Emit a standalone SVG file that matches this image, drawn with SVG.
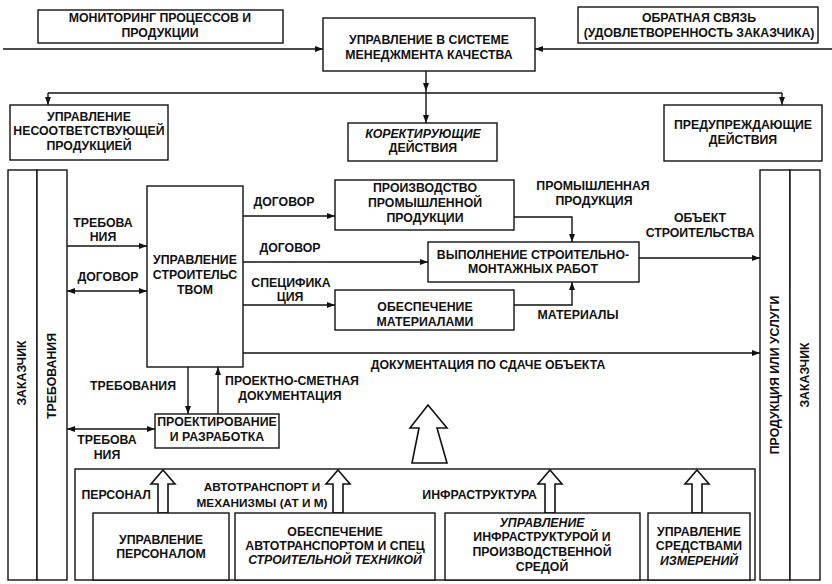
<svg xmlns="http://www.w3.org/2000/svg" width="832" height="584" viewBox="0 0 832 584">
<style>
.b{fill:#fff;stroke:#111;stroke-width:1.4}
.c{fill:none;stroke:#111;stroke-width:1.4}
.h{fill:#fff;stroke:#111;stroke-width:1.6;stroke-linejoin:miter}
text{font-family:"Liberation Sans",Arial,sans-serif;font-weight:bold;font-size:12.3px;fill:#111;text-anchor:middle}
.i{font-style:italic}
.e{text-anchor:end}
.s{font-size:11.8px}
</style>
<defs>
<marker id="a" viewBox="0 0 8 6" refX="8" refY="3" markerWidth="8" markerHeight="6" markerUnits="userSpaceOnUse" orient="auto-start-reverse">
<path d="M0,0 L8,3 L0,6 z" fill="#111"/>
</marker>
</defs>
<rect width="832" height="584" fill="#fff"/>

<g id="connectors">
<path class="c" d="M3,49 H323" marker-end="url(#a)"/>
<path class="c" d="M832,49 H535" marker-end="url(#a)"/>
<path class="c" d="M426,71 V91" marker-end="url(#a)"/>
<path class="c" d="M426,91 V123" marker-end="url(#a)"/>
<path class="c" d="M48,93 H782"/>
<path class="c" d="M48,93 V105" marker-end="url(#a)"/>
<path class="c" d="M782,93 V105" marker-end="url(#a)"/>
<path class="c" d="M67,246 H147" marker-end="url(#a)"/>
<path class="c" d="M67,291 H147" marker-start="url(#a)" marker-end="url(#a)"/>
<path class="c" d="M243,216 H335" marker-end="url(#a)"/>
<path class="c" d="M243,262 H428" marker-end="url(#a)"/>
<path class="c" d="M243,305 H335" marker-end="url(#a)"/>
<path class="c" d="M243,353 H760" marker-end="url(#a)"/>
<path class="c" d="M514,217 H572 V242" marker-end="url(#a)"/>
<path class="c" d="M514,305 H572 V282" marker-end="url(#a)"/>
<path class="c" d="M639,258 H760" marker-end="url(#a)"/>
<path class="c" d="M188,367 V414" marker-end="url(#a)"/>
<path class="c" d="M218,414 V367" marker-end="url(#a)"/>
<path class="c" d="M67,429 H155" marker-start="url(#a)" marker-end="url(#a)"/>
<polygon class="h" points="428,405 447,428 437,428 447,463 412,463 419,428 410,428"/>
<polygon class="h" points="163,470 175,484 168,484 168,513 158,513 158,484 151,484"/>
<polygon class="h" points="338,470 350,484 343,484 343,513 333,513 333,484 326,484"/>
<polygon class="h" points="550,470 562,484 555,484 555,513 545,513 545,484 538,484"/>
<polygon class="h" points="697,470 709,484 702,484 702,513 692,513 692,484 685,484"/>
</g>

<g id="labels">
<text x="103" y="227">ТРЕБОВА</text>
<text x="103" y="241">НИЯ</text>
<text x="108" y="281">ДОГОВОР</text>
<text x="284" y="206">ДОГОВОР</text>
<text x="290" y="252">ДОГОВОР</text>
<text x="291" y="287">СПЕЦИФИКА</text>
<text x="290" y="301">ЦИЯ</text>
<text x="593" y="190">ПРОМЫШЛЕННАЯ</text>
<text x="594" y="205">ПРОДУКЦИЯ</text>
<text x="700" y="222">ОБЪЕКТ</text>
<text x="700" y="237">СТРОИТЕЛЬСТВА</text>
<text x="578" y="319">МАТЕРИАЛЫ</text>
<text x="488" y="369">ДОКУМЕНТАЦИЯ ПО СДАЧЕ ОБЪЕКТА</text>
<text x="133" y="390">ТРЕБОВАНИЯ</text>
<text x="292" y="385">ПРОЕКТНО-СМЕТНАЯ</text>
<text x="290" y="400">ДОКУМЕНТАЦИЯ</text>
<text x="107" y="444">ТРЕБОВА</text>
<text x="107" y="459">НИЯ</text>
<text x="151" y="499" class="e">ПЕРСОНАЛ</text>
<text x="262" y="491" class="s">АВТОТРАНСПОРТ И</text>
<text x="262" y="507" class="s">МЕХАНИЗМЫ (АТ И М)</text>
<text x="537" y="499" class="e">ИНФРАСТРУКТУРА</text>
</g>

<g id="monitoring">
<rect class="b" x="38" y="10" width="245" height="33"/>
<text x="160" y="22">МОНИТОРИНГ ПРОЦЕССОВ И</text>
<text x="160" y="37">ПРОДУКЦИИ</text>
</g>
<g id="qms">
<rect class="b" x="323" y="18" width="212" height="53"/>
<text x="429" y="44">УПРАВЛЕНИЕ В СИСТЕМЕ</text>
<text x="429" y="59">МЕНЕДЖМЕНТА КАЧЕСТВА</text>
</g>
<g id="feedback">
<rect class="b" x="578" y="7" width="240" height="36"/>
<text x="699" y="22">ОБРАТНАЯ СВЯЗЬ</text>
<text x="699" y="37">(УДОВЛЕТВОРЕННОСТЬ ЗАКАЗЧИКА)</text>
</g>
<g id="nonconforming">
<rect class="b" x="10" y="105" width="158" height="55"/>
<text x="89" y="121">УПРАВЛЕНИЕ</text>
<text x="89" y="135">НЕСООТВЕТСТВУЮЩЕЙ</text>
<text x="89" y="150">ПРОДУКЦИЕЙ</text>
</g>
<g id="corrective">
<rect class="b" x="348" y="123" width="149" height="38"/>
<text x="423" y="138" class="i">КОРЕКТИРУЮЩИЕ</text>
<text x="423" y="152">ДЕЙСТВИЯ</text>
</g>
<g id="preventive">
<rect class="b" x="664" y="105" width="158" height="56"/>
<text x="743" y="129">ПРЕДУПРЕЖДАЮЩИЕ</text>
<text x="743" y="144">ДЕЙСТВИЯ</text>
</g>
<g id="customer-left">
<rect class="b" x="8" y="170" width="29" height="410"/>
<text transform="translate(26,373) rotate(-90)">ЗАКАЗЧИК</text>
</g>
<g id="requirements-left">
<rect class="b" x="37" y="170" width="30" height="410"/>
<text transform="translate(56,376) rotate(-90)">ТРЕБОВАНИЯ</text>
</g>
<g id="products-right">
<rect class="b" x="760" y="170" width="30" height="410"/>
<text transform="translate(779,375) rotate(-90)">ПРОДУКЦИЯ ИЛИ УСЛУГИ</text>
</g>
<g id="customer-right">
<rect class="b" x="790" y="170" width="30" height="410"/>
<text transform="translate(809,375) rotate(-90)">ЗАКАЗЧИК</text>
</g>
<g id="construction-mgmt">
<rect class="b" x="147" y="186" width="96" height="181"/>
<text x="195" y="264">УПРАВЛЕНИЕ</text>
<text x="195" y="279">СТРОИТЕЛЬС</text>
<text x="195" y="294">ТВОМ</text>
</g>
<g id="industrial">
<rect class="b" x="335" y="180" width="179" height="50"/>
<text x="425" y="192">ПРОИЗВОДСТВО</text>
<text x="425" y="207">ПРОМЫШЛЕННОЙ</text>
<text x="425" y="222">ПРОДУКЦИИ</text>
</g>
<g id="works">
<rect class="b" x="428" y="242" width="211" height="40"/>
<text x="533" y="259">ВЫПОЛНЕНИЕ СТРОИТЕЛЬНО-</text>
<text x="533" y="273">МОНТАЖНЫХ РАБОТ</text>
</g>
<g id="materials">
<rect class="b" x="335" y="290" width="179" height="40"/>
<text x="425" y="311">ОБЕСПЕЧЕНИЕ</text>
<text x="425" y="326">МАТЕРИАЛАМИ</text>
</g>
<g id="design">
<rect class="b" x="155" y="414" width="124" height="34"/>
<text x="217" y="426">ПРОЕКТИРОВАНИЕ</text>
<text x="217" y="441">И РАЗРАБОТКА</text>
</g>
<g id="resources">
<rect class="c" x="75" y="469" width="680" height="111"/>
</g>
<g id="personnel">
<rect class="b" x="93" y="513" width="136" height="67"/>
<text x="161" y="544">УПРАВЛЕНИЕ</text>
<text x="161" y="558">ПЕРСОНАЛОМ</text>
</g>
<g id="transport">
<rect class="b" x="235" y="513" width="200" height="67"/>
<text x="335" y="536">ОБЕСПЕЧЕНИЕ</text>
<text x="335" y="550">АВТОТРАНСПОРТОМ И СПЕЦ</text>
<text x="335" y="564" class="i">СТРОИТЕЛЬНОЙ ТЕХНИКОЙ</text>
</g>
<g id="infrastructure">
<rect class="b" x="445" y="513" width="195" height="67"/>
<text x="542" y="527" class="i">УПРАВЛЕНИЕ</text>
<text x="542" y="541">ИНФРАСТРУКТУРОЙ И</text>
<text x="542" y="556">ПРОИЗВОДСТВЕННОЙ</text>
<text x="542" y="571">СРЕДОЙ</text>
</g>
<g id="measuring">
<rect class="b" x="648" y="513" width="102" height="67"/>
<text x="699" y="536">УПРАВЛЕНИЕ</text>
<text x="699" y="550">СРЕДСТВАМИ</text>
<text x="699" y="565" class="i">ИЗМЕРЕНИЙ</text>
</g>
</svg>
